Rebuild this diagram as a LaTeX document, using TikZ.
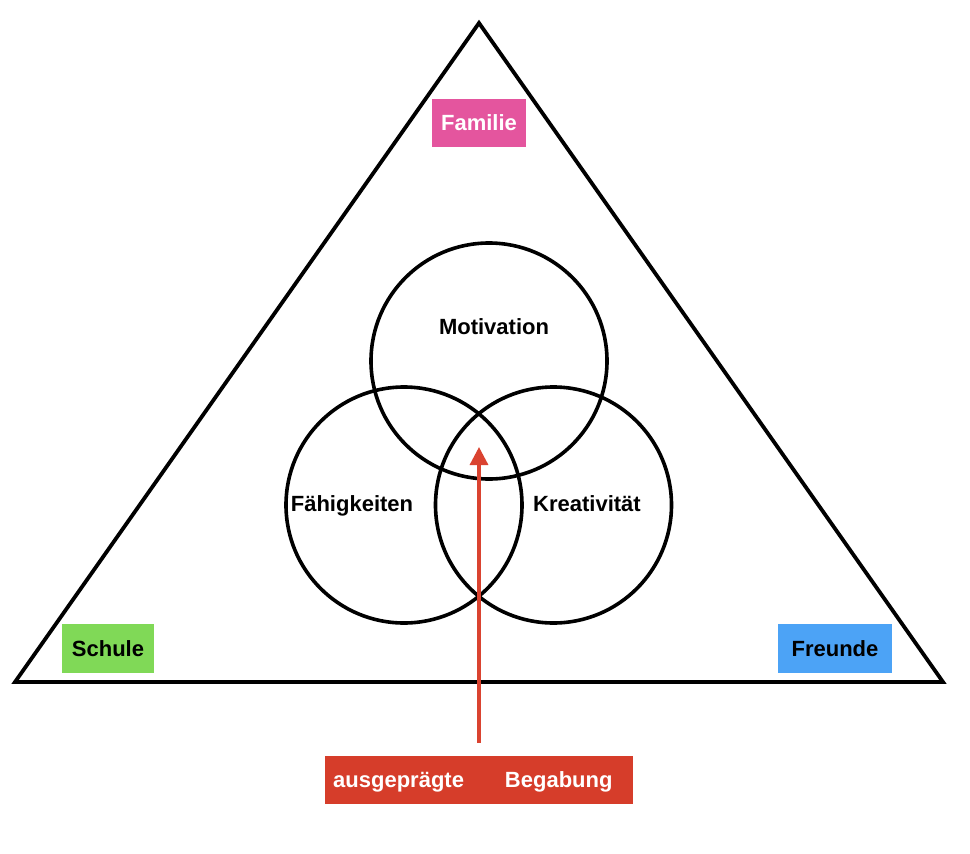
\documentclass[tikz,border=0pt]{standalone}
\usepackage{fontspec}
\setmainfont{Liberation Sans}
\usetikzlibrary{arrows.meta}
\definecolor{famcol}{HTML}{E4559E}
\definecolor{schcol}{HTML}{80D957}
\definecolor{frecol}{HTML}{4CA3F6}
\definecolor{begcol}{HTML}{D63D2A}
\definecolor{arrcol}{HTML}{DA4330}
\begin{document}
\begin{tikzpicture}[x=1pt,y=-1pt,
  txt/.style={font=\fontsize{22}{26}\selectfont\bfseries, text height=15.8pt, text depth=0pt, inner sep=0pt},
  tag/.style={txt, minimum height=48pt},
  ring/.style={circle, draw=black, line width=3.6pt, minimum size=236pt, inner sep=0pt},
  tri/.style={draw=black, line width=3.8pt, line join=miter},
  upArrow/.style={draw=arrcol, line width=3.2pt, -{Triangle[width=18pt,length=18pt]}}
]
\useasboundingbox (0,0) rectangle (970,854);
% triangle
\coordinate (apex) at (479,23);
\coordinate (bl) at (15,682);
\coordinate (br) at (943,682);
\draw[tri] (apex) -- (bl) -- (br) -- cycle;
% circles
\node[ring] (mot) at (489,361) {};
\node[ring] (fae) at (404,505) {};
\node[ring] (kre) at (553.5,505) {};
% circle labels
\node[txt] (lmot) at (494,327) {Motivation};
\node[txt] (lfae) at (352,504) {Fähigkeiten};
\node[txt] (lkre) at (587,504) {Kreativität};
% corner tags
\node[tag, fill=famcol, text=white, minimum width=94pt] (fam) at (479,123) {Familie};
\node[tag, fill=schcol, text=black, minimum width=92pt, minimum height=49pt] (sch) at (108,648.5) {Schule};
\node[tag, fill=frecol, text=black, minimum width=114pt, minimum height=49pt] (fre) at (835,648.5) {Freunde};
% Begabung box
\node[tag, fill=begcol, text=white, anchor=west, inner xsep=8pt, text width=292pt, align=left] (beg) at (325,780) {ausgeprägte\hspace{41pt}Begabung};
% arrow
\coordinate (tip) at (479,447);
\draw[upArrow, shorten <=13pt] (beg.north -| tip) -- (tip);
\end{tikzpicture}
\end{document}
